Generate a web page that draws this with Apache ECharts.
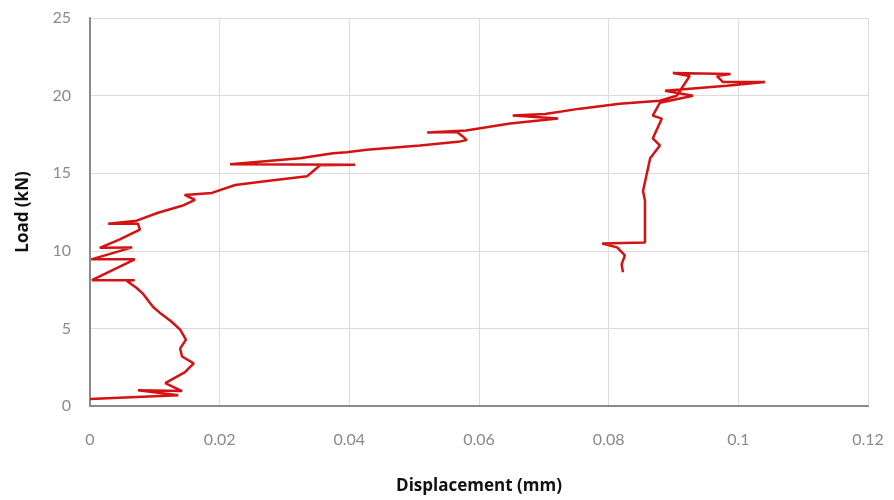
<!DOCTYPE html>
<html>
<head>
<meta charset="utf-8">
<script src="https://cdn.jsdelivr.net/npm/echarts@6/dist/echarts.min.js"></script>
<style>
  html, body { margin: 0; padding: 0; background: #fff; }
  #chart { width: 894px; height: 500px; }
</style>
</head>
<body>
<div id="chart"></div>
<script>
// displacement (mm)
const displacement = [
  0, 0.0136, 0.0074, 0.0142, 0.0116, 0.0146, 0.0160, 0.0142, 0.0139, 0.0148,
  0.0139, 0.0126, 0.0108, 0.0097, 0.0082, 0.0072, 0.0057, 0.0069, 0.0003, 0.0069,
  0.0002, 0.0065, 0.0015, 0.0046, 0.0077, 0.0074, 0.0028, 0.0072, 0.0105, 0.0142,
  0.0162, 0.0146, 0.0188, 0.0224, 0.0273, 0.0335, 0.0344, 0.0355, 0.0409, 0.0216,
  0.0324, 0.0375, 0.0396, 0.0427, 0.0509, 0.0571, 0.0581, 0.0575, 0.0566, 0.0520,
  0.0580, 0.0648, 0.0722, 0.0652, 0.0702, 0.0756, 0.0817, 0.0879, 0.0905, 0.0925,
  0.0899, 0.0988, 0.0967, 0.0976, 0.1041, 0.0982, 0.0887, 0.0930, 0.0879, 0.0868,
  0.0882, 0.0868, 0.0879, 0.0864, 0.0853, 0.0856, 0.0856, 0.0790, 0.0813, 0.0825,
  0.0820, 0.0822
]
// load (kN)
const load = [
  0.45, 0.70, 1.02, 0.96, 1.47, 2.17, 2.75, 3.19, 3.70, 4.28,
  4.92, 5.43, 6.00, 6.39, 7.22, 7.60, 8.05, 8.11, 8.11, 9.45,
  9.45, 10.22, 10.19, 10.73, 11.37, 11.75, 11.75, 11.94, 12.45, 12.90,
  13.28, 13.60, 13.73, 14.24, 14.50, 14.81, 15.13, 15.52, 15.55, 15.58,
  15.96, 16.28, 16.35, 16.51, 16.79, 17.05, 17.13, 17.37, 17.66, 17.62,
  17.75, 18.20, 18.52, 18.71, 18.81, 19.16, 19.48, 19.67, 19.99, 21.26,
  21.46, 21.39, 21.26, 20.88, 20.88, 20.63, 20.31, 19.99, 19.54, 18.71,
  18.52, 17.24, 16.79, 15.96, 13.86, 13.22, 10.54, 10.47, 10.22, 9.71,
  9.13, 8.62
]
const xTicks = ['0', '0.02', '0.04', '0.06', '0.08', '0.1', '0.12']

const points = displacement.map((d, i) => [d, load[i]])

const chart = echarts.init(document.getElementById('chart'))
chart.setOption({
  animation: false,
  grid: {
    left: 90,
    right: 26,
    top: 18,
    bottom: 90
  },
  xAxis: {
    type: 'value',
    min: 0,
    max: 0.12,
    interval: 0.02,
    name: 'Displacement (mm)',
    nameLocation: 'middle',
    nameGap: 72,
    nameTextStyle: { fontFamily: 'Open Sans', fontWeight: 'bold', fontSize: 17, color: '#111' },
    axisLine: { show: true, lineStyle: { color: '#8a8a8a', width: 2 } },
    axisTick: { show: false },
    axisLabel: {
      margin: 26,
      fontFamily: 'Lato',
      fontSize: 16,
      color: '#8a8a8a',
      formatter: (v) => xTicks[Math.round(v / 0.02)]
    },
    splitLine: { show: true, lineStyle: { color: '#dcdcdc', width: 1 } }
  },
  yAxis: {
    type: 'value',
    min: 0,
    max: 25,
    interval: 5,
    name: 'Load (kN)',
    nameLocation: 'middle',
    nameGap: 58,
    nameTextStyle: { fontFamily: 'Open Sans', fontWeight: 'bold', fontSize: 17, color: '#111' },
    axisLine: { show: true, lineStyle: { color: '#8a8a8a', width: 2 } },
    axisTick: { show: false },
    axisLabel: {
      margin: 19,
      fontFamily: 'Lato',
      fontSize: 16,
      color: '#8a8a8a'
    },
    splitLine: { show: true, lineStyle: { color: '#dcdcdc', width: 1 } }
  },
  series: [
    {
      type: 'line',
      data: points,
      showSymbol: false,
      smooth: false,
      lineStyle: { color: '#d41212', width: 2.5 },
      itemStyle: { color: '#d41212' }
    }
  ]
})
</script>
</body>
</html>
